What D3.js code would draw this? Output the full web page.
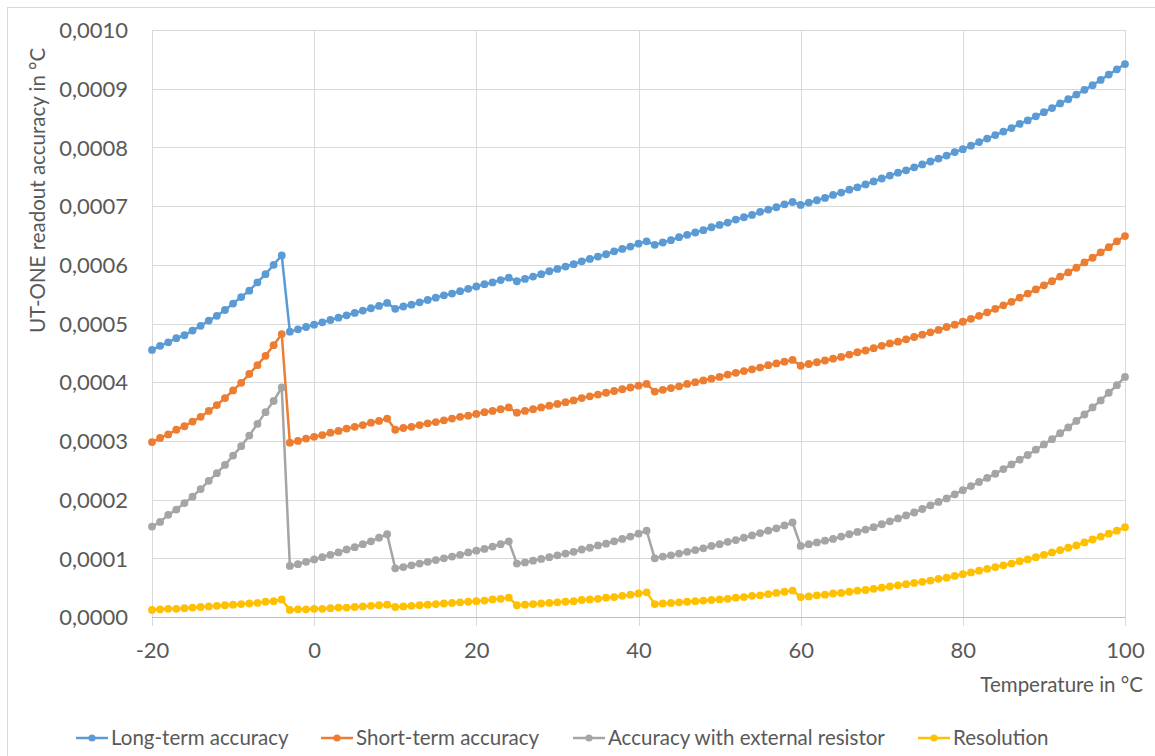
<!DOCTYPE html>
<html>
<head>
<meta charset="utf-8">
<script src="https://cdn.jsdelivr.net/npm/d3@7"></script>
<style>
  html, body { margin: 0; padding: 0; background: #fff; }
  svg { display: block; }
  text { font-family: Lato, "Open Sans", sans-serif; fill: #595959; }
</style>
</head>
<body>
<svg id="chart" width="1155" height="756"></svg>
<script>
// ---------- DATA (values in units of 1e-6 °C) ----------
const temperatures = d3.range(-20, 101); // -20 … 100 °C, 1 °C steps

const seriesNames = ["Long-term accuracy", "Short-term accuracy", "Accuracy with external resistor", "Resolution"];
const seriesColors = ["#5B9BD5", "#ED7D31", "#A5A5A5", "#FFC000"];

const longTerm = [
  455, 462, 468, 475, 480, 488, 496, 505, 513, 523, 534, 545, 556, 570, 584, 600, 616,
  486, 490, 494, 498, 502, 506, 510, 514, 518, 522, 526, 530, 535,
  525, 529, 532, 536, 540, 544, 548, 551, 555, 559, 563, 567, 570, 574, 578,
  572, 576, 580, 584, 589, 593, 597, 601, 606, 610, 614, 618, 623, 627, 631, 636, 640,
  634, 638, 642, 647, 651, 655, 659, 664, 668, 672, 677, 681, 685, 690, 694, 698, 703, 707,
  702, 706, 710, 714, 719, 723, 728, 732, 737, 742, 747, 752, 757, 761, 766, 771, 776, 781, 786, 792,
  797, 803, 809, 815, 821, 827, 833, 840, 846, 853, 860, 867, 875, 882, 890, 898, 906, 915, 924, 933, 942
];

const shortTerm = [
  298, 305, 311, 319, 325, 333, 341, 351, 361, 373, 386, 399, 414, 429, 445, 463, 482,
  297, 300, 304, 307, 310, 314, 317, 321, 324, 327, 331, 334, 338,
  319, 322, 324, 327, 330, 332, 335, 338, 341, 343, 346, 349, 351, 354, 357,
  348, 351, 354, 357, 360, 363, 366, 369, 373, 376, 379, 382, 385, 388, 391, 394, 397,
  384, 387, 390, 393, 397, 400, 403, 406, 409, 413, 416, 419, 422, 425, 429, 432, 435, 438,
  428, 431, 434, 437, 440, 443, 447, 451, 454, 458, 462, 466, 469, 473, 477, 481, 485, 489, 494, 498,
  503, 508, 513, 519, 525, 531, 537, 544, 551, 558, 565, 572, 580, 587, 595, 604, 612, 621, 630, 640, 649
];

const externalResistor = [
  154, 162, 174, 183, 194, 205, 218, 232, 245, 259, 275, 291, 309, 329, 349, 368, 391,
  87, 90, 94, 98, 102, 106, 110, 115, 119, 124, 129, 135, 141,
  83, 85, 88, 91, 94, 97, 100, 103, 106, 110, 113, 116, 120, 124, 129,
  91, 93, 96, 99, 102, 105, 108, 111, 115, 118, 122, 125, 129, 133, 137, 142, 147,
  100, 103, 105, 108, 111, 114, 117, 121, 124, 128, 131, 135, 139, 143, 147, 151, 156, 161,
  121, 124, 127, 130, 133, 137, 141, 145, 149, 153, 158, 163, 168, 173, 178, 184, 190, 196, 202, 209,
  216, 223, 230, 237, 244, 252, 260, 268, 276, 285, 294, 303, 313, 323, 334, 345, 357, 369, 382, 395, 409
];

const resolution = [
  12, 13, 14, 14, 15, 16, 17, 18, 19, 20, 21, 22, 23, 24, 26, 27, 30,
  12, 13, 13, 14, 14, 15, 16, 16, 17, 18, 19, 20, 21,
  17, 18, 19, 20, 21, 22, 23, 24, 25, 26, 27, 28, 30, 31, 33,
  20, 21, 22, 23, 24, 25, 26, 27, 29, 30, 31, 33, 34, 36, 38, 40, 42,
  22, 23, 24, 25, 26, 27, 28, 29, 30, 31, 33, 34, 36, 37, 39, 41, 43, 45,
  34, 35, 37, 38, 40, 41, 43, 45, 46, 48, 50, 52, 54, 56, 58, 60, 62, 65, 67, 70,
  73, 76, 79, 82, 85, 88, 91, 95, 98, 102, 106, 110, 114, 118, 122, 127, 132, 137, 142, 147, 153
];

const xTicks = [-20, 0, 20, 40, 60, 80, 100];
const xTickLabels = ["-20", "0", "20", "40", "60", "80", "100"];
const yTicks = [0, 100, 200, 300, 400, 500, 600, 700, 800, 900, 1000];
const yTickLabels = ["0,0000", "0,0001", "0,0002", "0,0003", "0,0004", "0,0005", "0,0006", "0,0007", "0,0008", "0,0009", "0,0010"];
const xTitle = "Temperature in °C";
const yTitle = "UT-ONE readout accuracy in °C";

// ---------- LAYOUT ----------
const svg = d3.select("#chart");
const plot = { left: 152, right: 1125, top: 30, bottom: 617 };

const x = d3.scaleLinear().domain([-20, 100]).range([plot.left, plot.right]);
const y = d3.scaleLinear().domain([0, 1000]).range([plot.bottom, plot.top]);

// chart border (Excel chart area)
svg.append("rect")
  .attr("x", 7.5).attr("y", 7.5)
  .attr("width", 1160).attr("height", 760)
  .attr("fill", "none").attr("stroke", "#d9d9d9").attr("stroke-width", 1);

// horizontal gridlines
svg.append("g")
  .selectAll("line").data(yTicks.filter(d => d > 0)).join("line")
  .attr("x1", plot.left).attr("x2", plot.right)
  .attr("y1", d => Math.round(y(d)) + 0.5).attr("y2", d => Math.round(y(d)) + 0.5)
  .attr("stroke", "#d9d9d9").attr("stroke-width", 1);

// vertical gridlines (with tick extension below axis)
svg.append("g")
  .selectAll("line").data(xTicks).join("line")
  .attr("x1", d => Math.round(x(d)) + 0.5).attr("x2", d => Math.round(x(d)) + 0.5)
  .attr("y1", plot.top).attr("y2", plot.bottom + 9)
  .attr("stroke", "#d9d9d9").attr("stroke-width", 1);

// x axis line
svg.append("line")
  .attr("x1", plot.left).attr("x2", plot.right)
  .attr("y1", plot.bottom + 0.5).attr("y2", plot.bottom + 0.5)
  .attr("stroke", "#bfbfbf").attr("stroke-width", 1);

// axes labels using d3 axes (no domain lines/ticks)
const xAxis = d3.axisBottom(x).tickValues(xTicks).tickSize(0).tickPadding(0)
  .tickFormat((d, i) => xTickLabels[i]);
const gx = svg.append("g").attr("transform", `translate(0, ${plot.bottom + 25})`).call(xAxis);
gx.select(".domain").remove();
gx.selectAll("text").attr("font-size", 22).attr("fill", "#595959")
  .style("font-family", "Lato, 'Open Sans', sans-serif").attr("dy", "0.71em");

const yAxis = d3.axisLeft(y).tickValues(yTicks).tickSize(0).tickPadding(0)
  .tickFormat((d, i) => yTickLabels[i]);
const gy = svg.append("g").attr("transform", `translate(${plot.left - 24}, 0)`).call(yAxis);
gy.select(".domain").remove();
gy.selectAll("text").attr("font-size", 22).attr("fill", "#595959")
  .style("font-family", "Lato, 'Open Sans', sans-serif").attr("dy", "0.35em");

// axis titles
svg.append("text")
  .attr("x", 1143).attr("y", 692)
  .attr("text-anchor", "end").attr("font-size", 20.5)
  .text(xTitle);

svg.append("text")
  .attr("transform", "translate(45, 333) rotate(-90)")
  .attr("text-anchor", "start").attr("font-size", 20.5)
  .text(yTitle);

// ---------- SERIES ----------
const allSeries = [longTerm, shortTerm, externalResistor, resolution];
const line = d3.line().x((d, i) => x(temperatures[i])).y(d => y(d));

allSeries.forEach((vals, si) => {
  const g = svg.append("g");
  g.append("path")
    .datum(vals)
    .attr("d", line)
    .attr("fill", "none")
    .attr("stroke", seriesColors[si])
    .attr("stroke-width", 2.5)
    .attr("stroke-linejoin", "round");
  g.selectAll("circle").data(vals).join("circle")
    .attr("cx", (d, i) => x(temperatures[i]))
    .attr("cy", d => y(d))
    .attr("r", 3.9)
    .attr("fill", seriesColors[si]);
});

// ---------- LEGEND ----------
const legendX = [76, 321, 573, 918];
const legendY = 738;
const lg = svg.append("g");
seriesNames.forEach((name, i) => {
  const gx0 = legendX[i];
  lg.append("line")
    .attr("x1", gx0).attr("x2", gx0 + 32)
    .attr("y1", legendY).attr("y2", legendY)
    .attr("stroke", seriesColors[i]).attr("stroke-width", 2.5);
  lg.append("circle")
    .attr("cx", gx0 + 16).attr("cy", legendY).attr("r", 3.6)
    .attr("fill", seriesColors[i]);
  lg.append("text")
    .attr("x", gx0 + 35).attr("y", legendY)
    .attr("dy", "0.35em")
    .attr("font-size", 20.5)
    .text(name);
});
</script>
</body>
</html>
